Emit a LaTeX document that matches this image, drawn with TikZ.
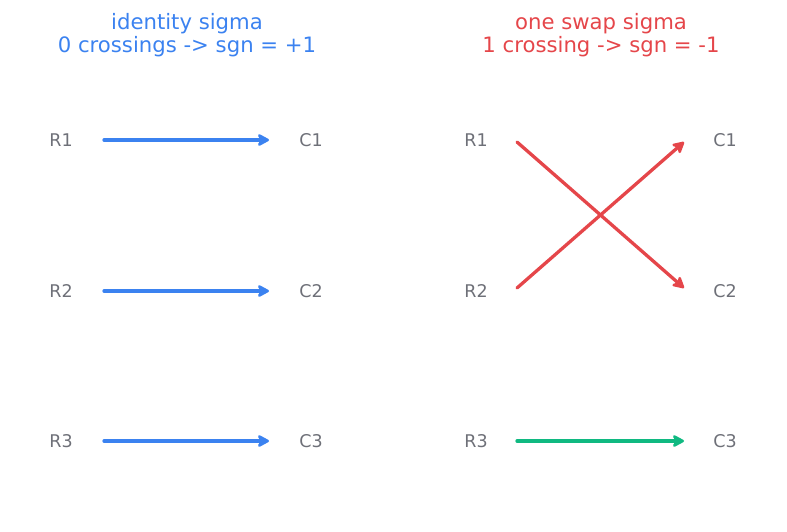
\documentclass[tikz,border=0pt]{standalone}
\usepackage{fontspec}
\setmainfont{DejaVu Sans}
\usetikzlibrary{arrows.meta}
\definecolor{myblue}{HTML}{3B82F0}
\definecolor{myred}{HTML}{E5464A}
\definecolor{mygreen}{HTML}{10B981}
\definecolor{mygray}{HTML}{6E7078}
\tikzset{
  lbl/.style={text=mygray, inner sep=0pt, font=\fontsize{17.5}{20}\selectfont},
  ttl/.style={align=center, inner sep=0pt, font=\fontsize{21.2}{23.5}\selectfont},
  arr/.style={line width=3.3pt, line cap=round, -{Stealth[length=14pt,width=15pt,inset=4pt,round]}},
}
\begin{document}
\begin{tikzpicture}[x=1pt,y=-1pt]
\useasboundingbox (0,0) rectangle (787,531);
% titles
\node[ttl, text=myblue] (t1) at (187,35) {identity sigma\\0 crossings -> sgn = +1};
\node[ttl, text=myred] (t2) at (601,35) {one swap sigma\\1 crossing -> sgn = -1};
% left labels
\node[lbl] (LR1) at (61,140) {R1};
\node[lbl] (LR2) at (61,291) {R2};
\node[lbl] (LR3) at (61,441) {R3};
\node[lbl] (LC1) at (311,140) {C1};
\node[lbl] (LC2) at (311,291) {C2};
\node[lbl] (LC3) at (311,441) {C3};
% right labels
\node[lbl] (RR1) at (476,140) {R1};
\node[lbl] (RR2) at (476,291) {R2};
\node[lbl] (RR3) at (476,441) {R3};
\node[lbl] (RC1) at (725,140) {C1};
\node[lbl] (RC2) at (725,291) {C2};
\node[lbl] (RC3) at (725,441) {C3};
% ports
\coordinate (lo1) at (104,140);
\coordinate (lo2) at (104,291);
\coordinate (lo3) at (104,441);
\coordinate (li1) at (269,140);
\coordinate (li2) at (269,291);
\coordinate (li3) at (269,441);
\coordinate (ro1) at (517,142);
\coordinate (ro2) at (517,288);
\coordinate (ro3) at (517,441);
\coordinate (ri1) at (684,142);
\coordinate (ri2) at (684,288);
\coordinate (ri3) at (684,441);
% arrows
\draw[arr, myblue] (lo1) -- (li1);
\draw[arr, myblue] (lo2) -- (li2);
\draw[arr, myblue] (lo3) -- (li3);
\draw[arr, myred] (ro1) -- (ri2);
\draw[arr, myred] (ro2) -- (ri1);
\draw[arr, mygreen] (ro3) -- (ri3);
\end{tikzpicture}
\end{document}
